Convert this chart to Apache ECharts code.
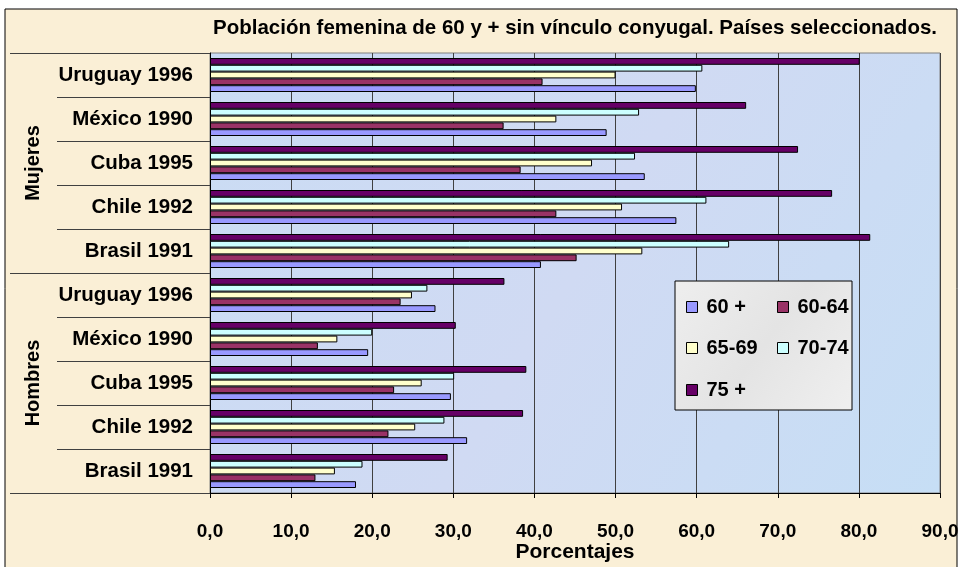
<!DOCTYPE html>
<html>
<head>
<meta charset="utf-8">
<script src="https://cdn.jsdelivr.net/npm/echarts@6/dist/echarts.min.js"></script>
<style>
html, body { margin: 0; padding: 0; background: #fff; }
#main { width: 962px; height: 567px; }
</style>
</head>
<body>
<div id="main"></div>
<script>
var groups = ['Hombres', 'Mujeres'];
var countries = ['Brasil 1991', 'Chile 1992', 'Cuba 1995', 'México 1990', 'Uruguay 1996'];
var seriesNames = ['60 +', '60-64', '65-69', '70-74', '75 +'];
// Hombres (Brasil..Uruguay) luego Mujeres (Brasil..Uruguay)
var v60mas = [18.0, 31.7, 29.7, 19.5, 27.8, 40.8, 57.5, 53.6, 48.9, 59.9];
var v6064 = [13.0, 22.0, 22.7, 13.3, 23.5, 45.2, 42.7, 38.3, 36.2, 41.0];
var v6569 = [15.4, 25.3, 26.1, 15.7, 24.9, 53.3, 50.8, 47.1, 42.7, 50.0];
var v7074 = [18.8, 28.9, 30.1, 20.0, 26.8, 64.0, 61.2, 52.4, 52.9, 60.7];
var v75mas = [29.3, 38.6, 39.0, 30.3, 36.3, 81.4, 76.7, 72.5, 66.1, 80.1];
var xMin = 0, xMax = 90, xStep = 10;
var colores = ['#9999FF', '#993366', '#FFFFCC', '#CCFFFF', '#660066'];

var fuente = 'Liberation Sans, Arial, sans-serif';

function drawChart(element) {
    var dom = document.getElementById(element);
    var myChart = echarts.init(dom);

    // claves unicas por grupo
    var cats = [];
    for (var g = 0; g < groups.length; g++) {
        for (var c = 0; c < countries.length; c++) {
            cats.push(groups[g] + '|' + countries[c]);
        }
    }
    var valores = [v60mas, v6064, v6569, v7074, v75mas];
    var series = [];
    // en echarts la primera serie queda arriba: se agregan al reves
    for (var i = seriesNames.length - 1; i >= 0; i--) {
        series.push({
            name: seriesNames[i],
            type: 'bar',
            yAxisIndex: 0,
            barWidth: 6.8,
            barGap: '0%',
            itemStyle: { color: colores[i], borderColor: '#000', borderWidth: 1 },
            data: valores[i]
        });
    }

    // leyenda: una por elemento, en dos columnas
    var legPos = [[686, 297], [777, 297], [686, 338], [777, 338], [686, 380]];
    var legends = [];
    for (var k = 0; k < seriesNames.length; k++) {
        legends.push({
            data: [seriesNames[k]],
            left: legPos[k][0],
            top: legPos[k][1],
            z: 20,
            padding: 0,
            icon: 'rect',
            itemWidth: 11,
            itemHeight: 11,
            selectedMode: false,
            itemStyle: { borderColor: '#000', borderWidth: 1 },
            textStyle: { fontFamily: fuente, fontWeight: 'bold', fontSize: 20, color: '#000', padding: [0, 0, 0, 4] }
        });
    }

    var option = {
        backgroundColor: '#fff',
        animation: false,
        title: {
            text: 'Población femenina de 60 y + sin vínculo conyugal. Países seleccionados.',
            right: 25,
            top: 18,
            padding: 0,
            textStyle: { fontFamily: fuente, fontWeight: 'bold', fontSize: 20.5, color: '#000' }
        },
        legend: legends,
        graphic: [
            {
                type: 'rect', z: -10,
                shape: { x: 5, y: 9, width: 952, height: 570 },
                style: { fill: '#FAEFD6', stroke: '#000', lineWidth: 1 }
            },
            {
                type: 'rect', z: 10,
                shape: { x: 675, y: 281, width: 177, height: 129 },
                style: {
                    fill: new echarts.graphic.LinearGradient(0, 0, 1, 1, [
                        { offset: 0, color: '#EEEEEE' },
                        { offset: 0.5, color: '#E4E4E4' },
                        { offset: 1, color: '#EFEFEF' }
                    ]),
                    stroke: '#000', lineWidth: 1
                }
            }
        ],
        grid: {
            left: 210, right: 22, top: 53, bottom: 74,
            containLabel: false,
            outerBoundsMode: 'none',
            show: true,
            borderColor: '#808080',
            borderWidth: 1,
            backgroundColor: new echarts.graphic.LinearGradient(0, 0, 1, 1, [
                { offset: 0, color: '#CADCF4' },
                { offset: 0.5, color: '#D0DAF3' },
                { offset: 1, color: '#C6DEF5' }
            ])
        },
        xAxis: {
            type: 'value',
            min: xMin, max: xMax, interval: xStep,
            name: 'Porcentajes',
            nameLocation: 'middle',
            nameGap: 49,
            nameMoveOverlap: false,
            nameTextStyle: { fontFamily: fuente, fontWeight: 'bold', fontSize: 21, color: '#000' },
            axisLine: { show: true, lineStyle: { color: '#000' } },
            axisTick: { show: true, length: 5, lineStyle: { color: '#000' } },
            splitLine: { show: true, lineStyle: { color: '#404040', width: 1 } },
            axisLabel: {
                margin: 29,
                fontFamily: fuente, fontWeight: 'bold', fontSize: 19, color: '#000',
                formatter: function (v) { return v.toFixed(1).replace('.', ','); }
            }
        },
        yAxis: [
            {
                type: 'category',
                data: cats,
                position: 'left',
                axisLine: { show: true, lineStyle: { color: '#000' } },
                axisTick: { show: true, length: 153, lineStyle: { color: '#404040' } },
                axisLabel: {
                    margin: 17,
                    fontFamily: fuente, fontWeight: 'bold', fontSize: 20.5, color: '#000',
                    formatter: function (v) { return v.split('|')[1]; }
                },
                splitLine: { show: false }
            },
            {
                type: 'category',
                data: groups,
                position: 'left',
                axisLine: { show: false },
                axisTick: { show: true, length: 200, lineStyle: { color: '#404040' } },
                axisLabel: {
                    rotate: 90,
                    margin: 167,
                    fontFamily: fuente, fontWeight: 'bold', fontSize: 20, color: '#000'
                },
                splitLine: { show: false }
            }
        ],
        series: series
    };
    myChart.setOption(option);
}

drawChart('main');
</script>
</body>
</html>
